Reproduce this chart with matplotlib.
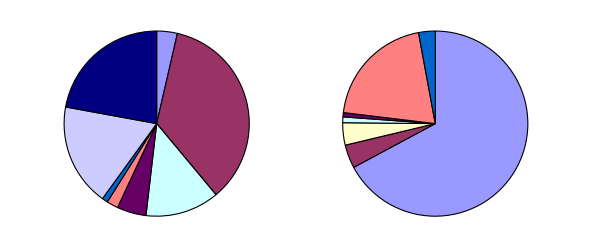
import matplotlib

matplotlib.use("Agg")
import matplotlib.pyplot as plt

# slice shares (%) read clockwise from 12 o'clock
left_values = [3.6, 35.3, 0.0, 12.9, 5.1, 2.0, 1.0, 17.9, 22.1]
right_values = [67.2, 4.1, 3.9, 1.0, 0.75, 20.2, 2.9]
palette = ["#9999FF", "#993366", "#FFFFCC", "#CCFFFF", "#660066",
           "#FF8080", "#0066CC", "#CCCCFF", "#000080"]


def draw_pie(fig, rect, values):
    ax = fig.add_axes(rect)
    ax.pie(values, colors=palette[:len(values)], startangle=90,
           counterclock=False, radius=1.0,
           wedgeprops=dict(edgecolor="black", linewidth=0.8))
    ax.set_xlim(-1.01, 1.01)
    ax.set_ylim(-1.01, 1.01)
    ax.set_aspect("equal")
    ax.axis("off")
    return ax


fig = plt.figure(figsize=(5.91, 2.51), dpi=100)
draw_pie(fig, [0.1069, 0.131, 0.3164, 0.745], left_values)
draw_pie(fig, [0.5783, 0.131, 0.3164, 0.745], right_values)
fig.savefig("out.png", dpi=100, facecolor="white")
